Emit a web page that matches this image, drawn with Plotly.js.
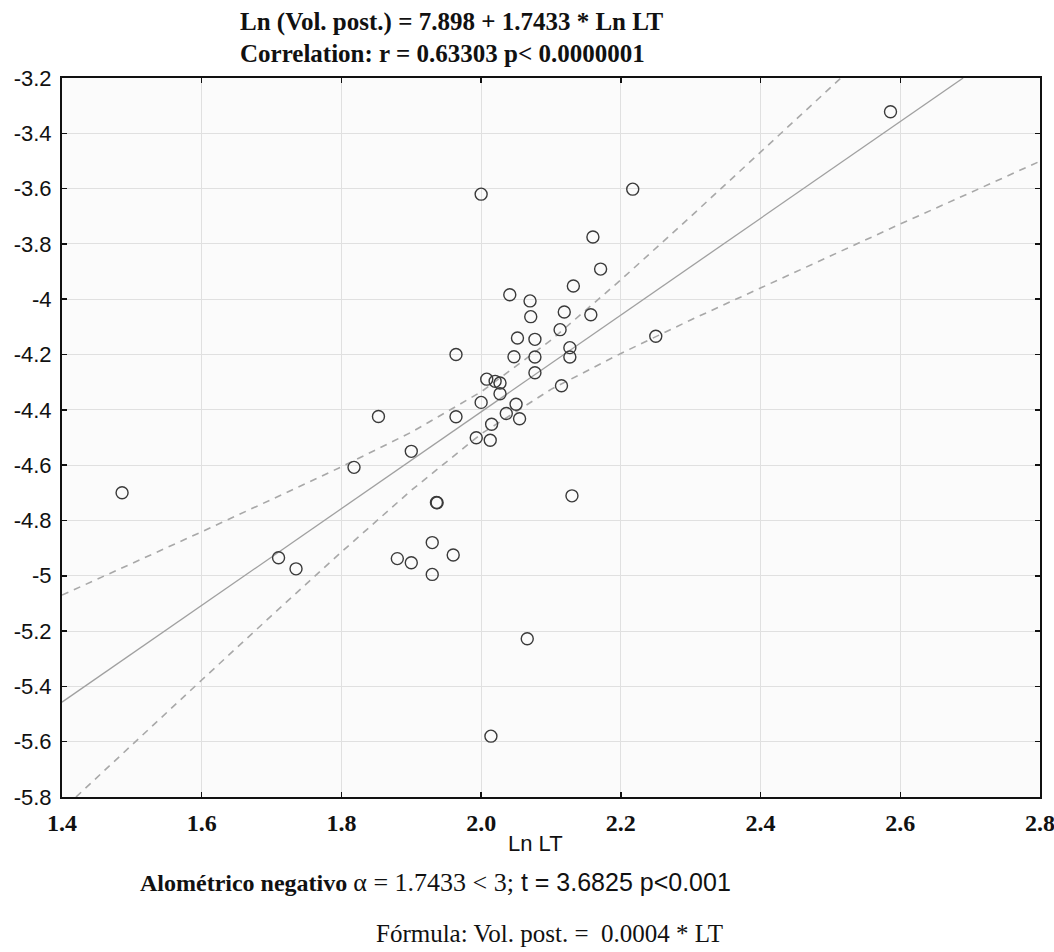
<!DOCTYPE html>
<html>
<head>
<meta charset="utf-8">
<script src="https://cdn.plot.ly/plotly-3.0.1.min.js"></script>
<style>
html,body{margin:0;padding:0;background:#fff;}
#chart{width:1054px;height:952px;}
</style>
</head>
<body>
<div id="chart"></div>
<script>
// Observed points: Ln LT (x) and Ln (Vol. post.) (y)
var lnLT = [
  1.486, 1.710, 1.735, 1.818, 1.853, 1.880, 1.900, 1.930, 1.930, 1.960,
  1.937, 2.000, 2.217, 2.586, 2.130, 2.250, 2.066, 2.014,
  2.160, 2.171, 2.132, 2.041, 2.070, 2.071, 2.119, 2.157, 2.113, 2.052,
  2.077, 2.127, 1.964, 2.047, 2.077, 2.127, 2.077, 2.008, 2.020, 2.027,
  2.115, 2.027, 2.000, 2.050, 2.036, 2.055, 1.964, 2.015, 1.993, 2.013,
  1.900, 1.936
];
var lnVol = [
  -4.700, -4.935, -4.975, -4.608, -4.424, -4.938, -4.953, -4.880, -4.995, -4.925,
  -4.736, -3.620, -3.602, -3.322, -4.711, -4.134, -5.228, -5.580,
  -3.775, -3.891, -3.952, -3.984, -4.006, -4.063, -4.046, -4.056, -4.110, -4.140,
  -4.145, -4.175, -4.200, -4.208, -4.209, -4.209, -4.266, -4.289, -4.297, -4.303,
  -4.313, -4.342, -4.373, -4.380, -4.413, -4.432, -4.425, -4.452, -4.501, -4.510,
  -4.550, -4.735
];

// Fitted line
var fitX = [1.4, 2.69];
var fitY = [-5.457, -3.2];

// Confidence band curves (dashed)
var upperX = [1.4, 1.5, 1.6, 1.7, 1.8, 1.9, 2.0, 2.1, 2.2, 2.3, 2.4, 2.5, 2.515];
var upperY = [-5.07, -4.956, -4.841, -4.724, -4.606, -4.481, -4.335, -4.148, -3.930, -3.701, -3.469, -3.236, -3.2];
var lowerX = [1.42, 1.5, 1.6, 1.7, 1.8, 1.9, 2.0, 2.1, 2.2, 2.3, 2.4, 2.5, 2.6, 2.7, 2.8];
var lowerY = [-5.8, -5.611, -5.377, -5.144, -4.914, -4.691, -4.487, -4.326, -4.196, -4.075, -3.959, -3.844, -3.728, -3.615, -3.501];

// Tick labels
var xTickVals = [1.4, 1.6, 1.8, 2.0, 2.2, 2.4, 2.6, 2.8];
var xTickText = ["1.4", "1.6", "1.8", "2.0", "2.2", "2.4", "2.6", "2.8"];
var yTickVals = [-3.2, -3.4, -3.6, -3.8, -4, -4.2, -4.4, -4.6, -4.8, -5, -5.2, -5.4, -5.6, -5.8];
var yTickText = ["-3.2", "-3.4", "-3.6", "-3.8", "-4", "-4.2", "-4.4", "-4.6", "-4.8", "-5", "-5.2", "-5.4", "-5.6", "-5.8"];

var titleLine1 = "Ln (Vol. post.) = 7.898 + 1.7433 * Ln LT";
var titleLine2 = "Correlation: r = 0.63303 p< 0.0000001";
var xTitle = "Ln LT";

var traces = [
  {x: upperX, y: upperY, mode: 'lines', type: 'scatter', hoverinfo: 'skip',
   line: {color: '#a8a8a8', width: 1.6, dash: '7px,6px'}},
  {x: lowerX, y: lowerY, mode: 'lines', type: 'scatter', hoverinfo: 'skip',
   line: {color: '#a8a8a8', width: 1.6, dash: '7px,6px'}},
  {x: fitX, y: fitY, mode: 'lines', type: 'scatter', hoverinfo: 'skip',
   line: {color: '#a0a0a0', width: 1.3}},
  {x: lnLT, y: lnVol, mode: 'markers', type: 'scatter',
   marker: {symbol: 'circle-open', size: 12, color: '#3a3a3a', line: {width: 1.4, color: '#3a3a3a'}}}
];

var layout = {
  width: 1054, height: 952,
  margin: {l: 62, r: 14, t: 78, b: 155},
  paper_bgcolor: '#ffffff',
  plot_bgcolor: '#fbfbfb',
  showlegend: false,
  xaxis: {
    range: [1.39999, 2.80001], tickmode: 'array', tickvals: xTickVals, ticktext: xTickText,
    showgrid: true, gridcolor: '#e0e0e0', gridwidth: 1,
    zeroline: false, showline: true, linecolor: '#111', linewidth: 2, mirror: 'ticks',
    ticks: 'inside', ticklen: 5, tickwidth: 1.5, tickcolor: '#111',
    ticklabelstandoff: 3, ticklabeloverflow: 'allow',
    tickfont: {family: '"Liberation Serif", "Times New Roman", serif', size: 24, color: '#111', weight: 'bold'}
  },
  yaxis: {
    range: [-5.80001, -3.19999], tickmode: 'array', tickvals: yTickVals, ticktext: yTickText,
    showgrid: true, gridcolor: '#e0e0e0', gridwidth: 1,
    zeroline: false, showline: true, linecolor: '#111', linewidth: 2, mirror: 'ticks',
    ticks: 'inside', ticklen: 5, tickwidth: 1.5, tickcolor: '#111',
    ticklabelstandoff: 4, ticklabeloverflow: 'allow',
    tickfont: {family: '"Liberation Sans", Arial, sans-serif', size: 22, color: '#111'}
  },
  annotations: [
    {xref: 'paper', yref: 'paper', x: (238 - 62) / 978, y: 1 + (78 - 22) / 719, xanchor: 'left', yanchor: 'middle',
     text: '<b>' + titleLine1 + '</b>', showarrow: false,
     font: {family: '"Liberation Serif", "Times New Roman", serif', size: 25, color: '#111'}},
    {xref: 'paper', yref: 'paper', x: (238 - 62) / 978, y: 1 + (78 - 53) / 719, xanchor: 'left', yanchor: 'middle',
     text: '<b>' + titleLine2 + '</b>', showarrow: false,
     font: {family: '"Liberation Serif", "Times New Roman", serif', size: 25, color: '#111'}},
    {xref: 'paper', yref: 'paper', x: (535 - 62) / 978, y: -(843 - 797) / 719, xanchor: 'center', yanchor: 'middle',
     text: xTitle, showarrow: false,
     font: {family: '"Liberation Sans", Arial, sans-serif', size: 22, color: '#111'}},
    {xref: 'paper', yref: 'paper', x: (138 - 62) / 978, y: -(883 - 797) / 719, xanchor: 'left', yanchor: 'middle',
     text: '<b>Alométrico negativo</b> <span style="font-size:26px">α = 1.7433 &lt; 3;</span><span style="font-family:Liberation Sans, Arial, sans-serif;font-size:25px"> t = 3.6825 p&lt;0.001</span>',
     showarrow: false,
     font: {family: '"Liberation Serif", "Times New Roman", serif', size: 24, color: '#111'}},
    {xref: 'paper', yref: 'paper', x: (549 - 62) / 978, y: -(933 - 797) / 719, xanchor: 'center', yanchor: 'middle',
     text: 'Fórmula: Vol. post. =  0.0004 * LT', showarrow: false,
     font: {family: '"Liberation Serif", "Times New Roman", serif', size: 25, color: '#111'}}
  ]
};

Plotly.newPlot('chart', traces, layout, {displayModeBar: false, staticPlot: true});
</script>
</body>
</html>
